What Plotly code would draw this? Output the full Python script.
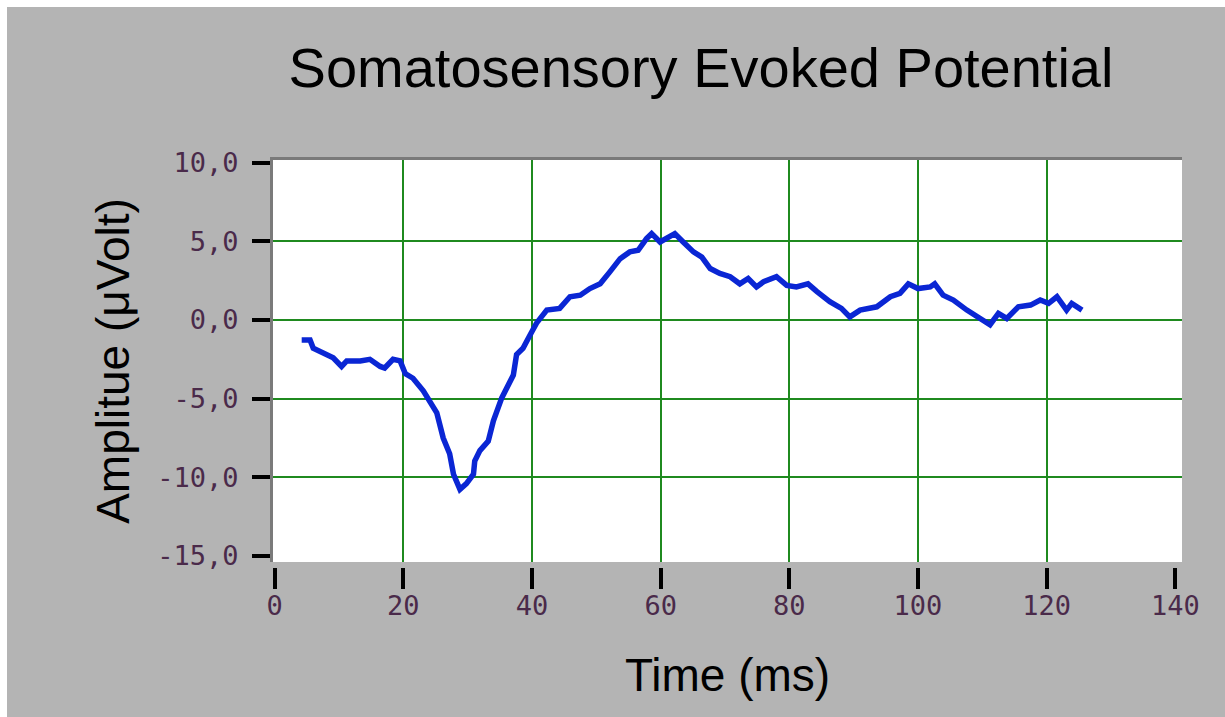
import plotly.graph_objects as go

# ---- data ----
time_ms = [4.2, 5.5, 6.0, 7.6, 9.1, 10.4, 11.2, 13.3, 14.8, 16.4, 17.1, 18.4, 19.5,
           20.3, 21.5, 23.1, 24.1, 25.2, 26.2, 27.2, 27.8, 28.8, 29.8, 30.9, 31.1,
           31.9, 33.2, 34.0, 35.3, 36.3, 37.1, 37.6, 38.6, 39.7, 40.7, 42.3, 44.3,
           45.9, 47.5, 49.0, 50.6, 52.1, 53.7, 55.2, 56.5, 57.8, 58.6, 59.9, 61.2,
           62.2, 63.5, 65.1, 66.4, 67.7, 69.2, 70.8, 72.3, 73.6, 74.9, 76.0, 78.0,
           79.6, 81.1, 82.9, 84.3, 86.3, 88.1, 89.4, 91.0, 92.3, 93.6, 95.7, 97.2,
           98.5, 100.0, 101.9, 102.6, 103.9, 105.5, 107.6, 109.1, 111.2, 112.5,
           113.8, 115.6, 117.5, 119.0, 120.3, 121.6, 123.1, 123.9, 125.5]
amplitude_uv = [-1.27, -1.27, -1.8, -2.1, -2.4, -2.95, -2.6, -2.6, -2.5, -2.95, -3.05,
                -2.5, -2.6, -3.4, -3.7, -4.5, -5.1, -5.9, -7.5, -8.5, -9.8, -10.76,
                -10.4, -9.8, -8.96, -8.3, -7.7, -6.4, -4.95, -4.1, -3.5, -2.2, -1.8,
                -0.95, -0.2, 0.63, 0.74, 1.48, 1.58, 2.0, 2.3, 3.06, 3.9, 4.33, 4.43,
                5.17, 5.49, 4.96, 5.28, 5.49, 4.96, 4.33, 4.0, 3.27, 2.96, 2.75, 2.3,
                2.64, 2.1, 2.43, 2.75, 2.2, 2.1, 2.3, 1.8, 1.16, 0.74, 0.2, 0.63, 0.74,
                0.84, 1.48, 1.69, 2.3, 2.0, 2.1, 2.3, 1.58, 1.27, 0.63, 0.2, -0.3, 0.42,
                0.1, 0.84, 0.95, 1.27, 1.06, 1.48, 0.63, 1.06, 0.63]

x_tick_vals = [0, 20, 40, 60, 80, 100, 120, 140]
x_tick_text = ["0", "20", "40", "60", "80", "100", "120", "140"]
x_grid_vals = [20, 40, 60, 80, 100, 120]
y_tick_vals = [-15, -10, -5, 0, 5, 10]
y_tick_text = ["-15,0", "-10,0", "-5,0", "0,0", "5,0", "10,0"]
y_grid_vals = [-10, -5, 0, 5]

# ---- styling ----
OFF = 7  # white frame at the top and left of the picture (page body margin)
W, H = 1225 - OFF, 717 - OFF
ML = 273 - OFF
MR = W - (1182 - OFF)
MT = 160 - OFF
MB = H - (572 - OFF)
PW, PH = W - ML - MR, H - MT - MB
BG = "#b4b4b4"
GRID = "#1f8a1f"
LINE = "#0a26d4"
TICKFONT = dict(family="DejaVu Sans Mono", size=27, color="#4a2a4a")


def page_y(py):
    """page pixel row -> paper y"""
    return (H - MB - (py - OFF)) / PH


def page_x(px):
    """page pixel column -> paper x"""
    return ((px - OFF) - ML) / PW


fig = go.Figure()
fig.add_trace(go.Scatter(x=time_ms, y=amplitude_uv, mode="lines",
                         line=dict(color=LINE, width=5.5), showlegend=False,
                         hoverinfo="x+y"))

fig.update_layout(
    width=W, height=H,
    paper_bgcolor=BG, plot_bgcolor="white",
    margin=dict(l=ML, r=MR, t=MT, b=MB, autoexpand=False),
    title=dict(text="Somatosensory Evoked Potential",
               font=dict(family="Liberation Sans, Arial", size=56, color="black"),
               x=(701 - OFF) / W, xanchor="center", xref="container",
               y=1 - (67 - OFF) / H, yanchor="middle", yref="container"),
    xaxis=dict(range=[-0.26, 141.04], anchor="free", position=page_y(567),
               tickmode="array", tickvals=x_tick_vals, ticktext=x_tick_text,
               ticks="outside", ticklen=21, tickwidth=4, tickcolor="black",
               tickfont=TICKFONT, ticklabelstandoff=-6,
               showline=False, zeroline=False, showgrid=False,
               minor=dict(tickmode="array", tickvals=x_grid_vals, showgrid=True,
                          gridcolor=GRID, gridwidth=2, ticks=""),
               title=dict(text="Time (ms)", standoff=38,
                          font=dict(family="Liberation Sans, Arial", size=46, color="black")),
               automargin=False, fixedrange=True),
    yaxis=dict(range=[-15.38, 10.17], domain=[page_y(562), 1],
               tickmode="array", tickvals=y_tick_vals, ticktext=y_tick_text,
               ticks="outside", ticklen=18, tickwidth=4, tickcolor="black",
               tickfont=TICKFONT, ticklabelstandoff=8,
               showline=True, linecolor="#7a7a7a", linewidth=3,
               zeroline=False, showgrid=False,
               minor=dict(tickmode="array", tickvals=y_grid_vals, showgrid=True,
                          gridcolor=GRID, gridwidth=2, ticks=""),
               title=dict(text="Amplitue (\u03bcVolt)", standoff=14,
                          font=dict(family="Liberation Sans, Arial", size=46, color="black")),
               automargin=False, fixedrange=True),
)

# top border of plot area
fig.add_shape(type="line", xref="paper", yref="paper",
              x0=page_x(270), x1=1, y0=page_y(158.5), y1=page_y(158.5),
              line=dict(color="#7a7a7a", width=3), layer="above")

fig.write_html(
    "out.html",
    post_script="document.body.style.margin='7px 0 0 7px';"
                "document.body.style.overflow='hidden';"
                "document.body.style.background='#ffffff';",
)
